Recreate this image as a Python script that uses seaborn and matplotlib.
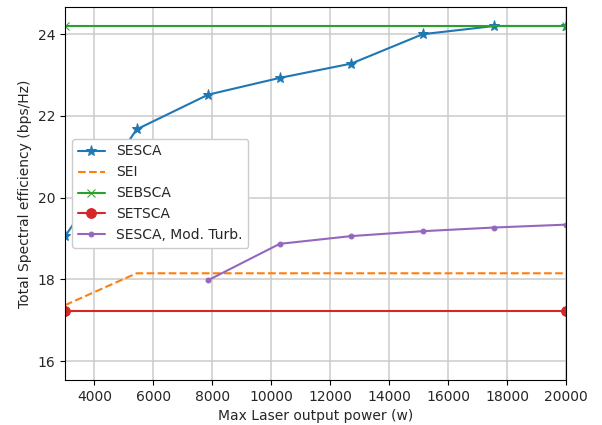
import numpy as np
import pandas as pd
import matplotlib
matplotlib.use("Agg")
import matplotlib.pyplot as plt
import seaborn as sns

# Max laser output power (w)
power = [3000, 5428.6, 7857.1, 10285.7, 12714.3, 15142.9, 17571.4, 20000]

sesca = [19.05, 21.67, 22.52, 22.93, 23.28, 24.0, 24.2, 24.2]
sei = [17.37, 18.15, 18.15, 18.15, 18.15, 18.15, 18.15, 18.15]
sebsca_x = [3000, 20000]
sebsca = [24.2, 24.2]
setsca_x = [3000, 20000]
setsca = [17.23, 17.23]
turb_x = [7857.1, 10285.7, 12714.3, 15142.9, 17571.4, 20000]
sesca_turb = [17.98, 18.87, 19.06, 19.18, 19.27, 19.34]

sns.set_style("ticks")
plt.rcParams["font.family"] = ["DejaVu Sans"]

fig, ax = plt.subplots(figsize=(6.02, 4.25), dpi=100)
fig.subplots_adjust(left=0.108, right=0.94, top=0.984, bottom=0.106)

pal = sns.color_palette("tab10")

sns.lineplot(x=power, y=sesca, ax=ax, color=pal[0], marker="*", markersize=8,
             markeredgecolor=pal[0], label="SESCA")
sns.lineplot(x=power, y=sei, ax=ax, color=pal[1], linestyle="--", label="SEI")
sns.lineplot(x=sebsca_x, y=sebsca, ax=ax, color=pal[2], marker="x", markersize=6,
             markeredgecolor=pal[2], label="SEBSCA")
sns.lineplot(x=setsca_x, y=setsca, ax=ax, color=pal[3], marker="o", markersize=7,
             markeredgecolor=pal[3], label="SETSCA")
sns.lineplot(x=turb_x, y=sesca_turb, ax=ax, color=pal[4], marker=".", markersize=7,
             markeredgecolor=pal[4], label="SESCA, Mod. Turb.")

ax.set_xlim(3000, 20000)
ax.set_ylim(15.54, 24.67)
ax.set_xticks([4000, 6000, 8000, 10000, 12000, 14000, 16000, 18000, 20000])
ax.set_yticks([16, 18, 20, 22, 24])
ax.grid(True, color="#cccccc", linewidth=1.1)
for s in ax.spines.values():
    s.set_visible(True)
    s.set_color("black")
    s.set_linewidth(0.8)
ax.tick_params(labelsize=10, direction="out", length=3.5, width=0.8, color="black")

ax.set_xlabel("Max Laser output power (w)", fontsize=10)
ax.set_ylabel("Total Spectral efficiency (bps/Hz)", fontsize=10)
leg = ax.legend(loc="center left", fontsize=10, framealpha=1.0)
leg.set_zorder(5)

fig.savefig("out.png", dpi=100)
